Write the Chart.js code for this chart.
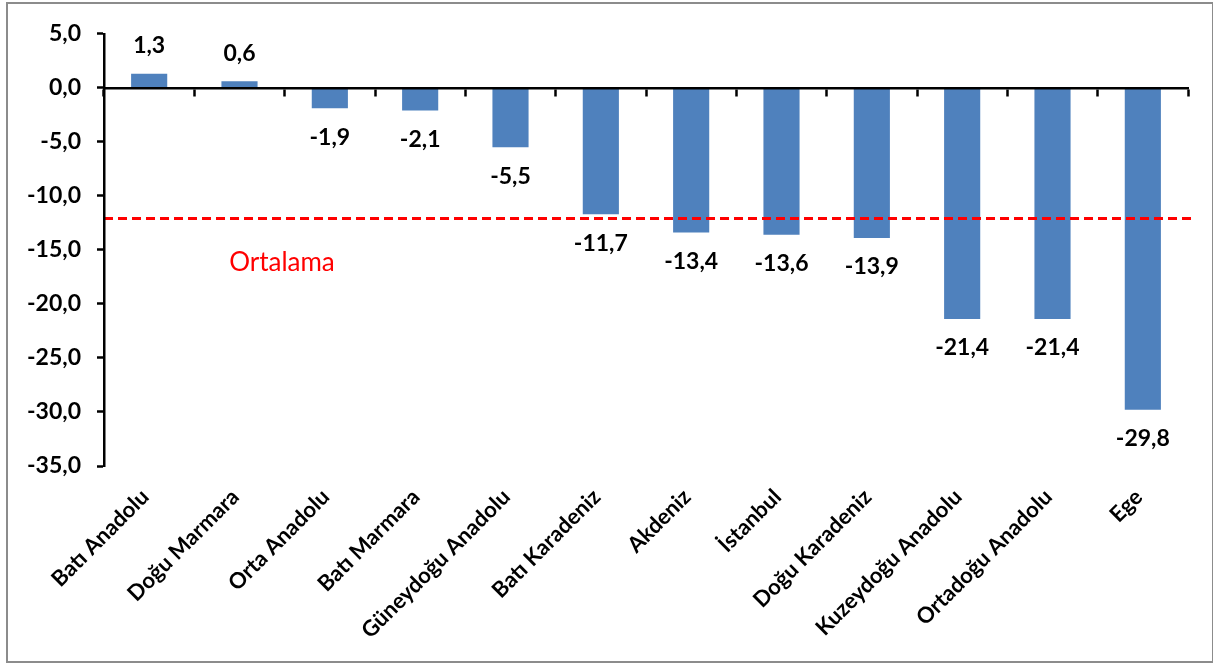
<!DOCTYPE html>
<html>
<head>
<meta charset="utf-8">
<script src="https://cdn.jsdelivr.net/npm/chart.js@4.4.1/dist/chart.umd.min.js"></script>
<style>
    body { margin: 0; background: #fff; }
    #box {
        position: absolute; left: 6px; top: 2px;
        width: 1208px; height: 661px;
        box-sizing: border-box;
        border: 2px solid #8c8c8c;
    }
</style>
</head>
<body>
<div id="box"><canvas id="myChart"></canvas></div>
<script>
const categories = ['Batı Anadolu', 'Doğu Marmara', 'Orta Anadolu', 'Batı Marmara', 'Güneydoğu Anadolu',
    'Batı Karadeniz', 'Akdeniz', 'İstanbul', 'Doğu Karadeniz', 'Kuzeydoğu Anadolu', 'Ortadoğu Anadolu', 'Ege'];
const values = [1.3, 0.6, -1.9, -2.1, -5.5, -11.7, -13.4, -13.6, -13.9, -21.4, -21.4, -29.8];
const average = -12.1;
const averageLabel = 'Ortalama';
const yMin = -35, yMax = 5, yStep = 5;

const fmt = v => v.toFixed(1).replace('.', ',');

// value labels above / below each bar
const barLabels = {
    id: 'barLabels',
    afterDatasetsDraw(chart) {
        const ctx = chart.ctx;
        const meta = chart.getDatasetMeta(0);
        ctx.save();
        ctx.font = 'bold 23px Lato';
        ctx.fillStyle = '#000';
        ctx.textAlign = 'center';
        ctx.textBaseline = 'middle';
        meta.data.forEach((bar, i) => {
            const v = values[i];
            const y = v >= 0 ? bar.y - 28 : bar.y + 29;
            ctx.fillText(fmt(v), bar.x, y);
        });
        ctx.restore();
    }
};

// dashed average line with its label
const averageLine = {
    id: 'averageLine',
    afterDatasetsDraw(chart) {
        const ctx = chart.ctx;
        const area = chart.chartArea;
        const y = chart.scales.y.getPixelForValue(average);
        ctx.save();
        ctx.strokeStyle = '#ff0000';
        ctx.lineWidth = 3;
        ctx.setLineDash([9, 5]);
        ctx.beginPath();
        ctx.moveTo(area.left, y);
        ctx.lineTo(area.right + 4, y);
        ctx.stroke();
        ctx.setLineDash([]);
        ctx.font = '26px Lato';
        ctx.fillStyle = '#ff0000';
        ctx.textAlign = 'center';
        ctx.textBaseline = 'middle';
        ctx.fillText(averageLabel, chart.scales.x.getPixelForValue(1.47), chart.scales.y.getPixelForValue(-16.2));
        ctx.restore();
    }
};

const ctx = document.getElementById('myChart').getContext('2d');
const myChart = new Chart(ctx, {
    type: 'bar',
    data: {
        labels: categories,
        datasets: [{
            data: values,
            backgroundColor: '#4f81bd',
            borderWidth: 0,
            categoryPercentage: 1,
            barPercentage: 0.4
        }]
    },
    options: {
        responsive: true,
        maintainAspectRatio: false,
        animation: false,
        layout: { padding: { top: 29, right: 24, bottom: 0, left: 0 } },
        plugins: {
            legend: { display: false },
            tooltip: { enabled: false }
        },
        scales: {
            x: {
                position: 'bottom',
                grid: { display: false },
                border: { display: false },
                ticks: {
                    color: '#000',
                    font: { family: 'Lato', weight: 'bold', size: 22 },
                    minRotation: 45,
                    maxRotation: 45,
                    labelOffset: -4,
                    padding: 10
                },
                afterFit(scale) { scale.height = 195; }
            },
            x2: {
                type: 'category',
                position: { y: 0 },
                offset: true,
                ticks: { display: false },
                grid: { offset: true, drawOnChartArea: false, tickLength: 7, tickWidth: 2.5, color: '#000', z: 1 },
                border: { color: '#000', width: 2.5, z: 1 }
            },
            y: {
                min: yMin,
                max: yMax,
                ticks: {
                    stepSize: yStep,
                    color: '#000',
                    font: { family: 'Lato', weight: 'bold', size: 23 },
                    padding: 16,
                    callback: v => fmt(v)
                },
                grid: { drawOnChartArea: false, tickLength: 7, tickWidth: 2.5, color: '#000', z: 1 },
                border: { color: '#000', width: 2.5, z: 1 },
                afterFit(scale) { scale.width = 96; }
            }
        }
    },
    plugins: [barLabels, averageLine]
});
</script>
</body>
</html>
